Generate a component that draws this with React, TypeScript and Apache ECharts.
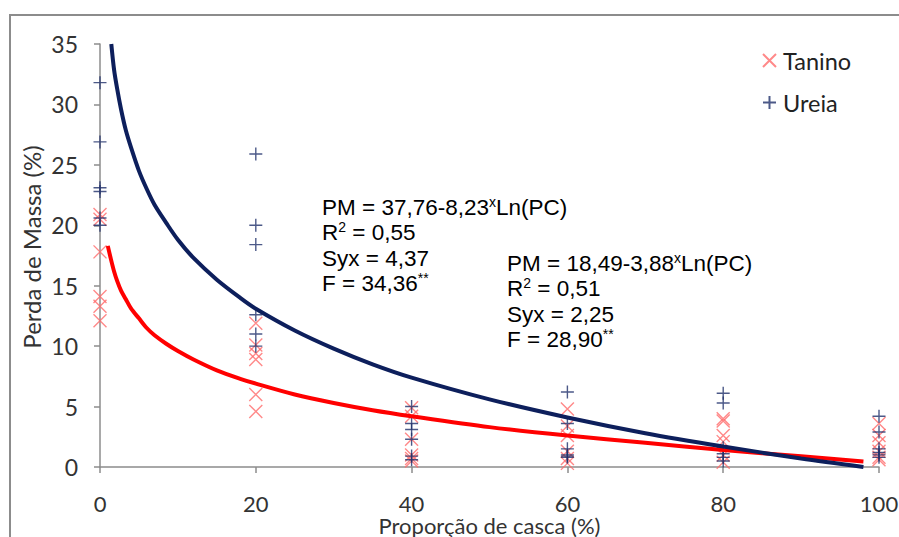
import React, { useEffect, useRef } from "react";
import * as echarts from "echarts";

// Proportion levels (x) and observed values (y) per treatment
const levels = [0, 20, 40, 60, 80, 100];
const taninoValues = [
  [20.9, 20.5, 17.8, 14.1, 13.3, 12.1],
  [11.9, 10.1, 9.4, 8.9, 6.0, 4.6],
  [4.9, 4.2, 2.3, 1.0, 0.7, 0.5],
  [4.8, 3.4, 2.6, 1.3, 0.7, 0.3],
  [4.0, 3.8, 2.6, 2.1, 1.0, 0.4],
  [3.6, 2.6, 2.0, 1.3, 0.8, 0.6],
];
const ureiaValues = [
  [31.8, 26.9, 23.1, 22.8, 20.6, 20.0],
  [25.9, 20.0, 18.4, 12.6, 11.0, 10.0],
  [5.0, 3.6, 3.1, 2.3, 0.9, 0.6],
  [6.2, 3.6, 1.5, 1.0, 0.9, 0.8],
  [6.1, 5.3, 1.6, 1.1, 0.8, 0.5],
  [4.2, 2.9, 1.5, 1.2, 1.0, 0.8],
];

// Trend curves
const ureiaFitX = [1.45, 1.8, 2.2, 2.7, 3.3, 4, 5, 6, 7, 8.5, 10, 12, 15, 18, 20, 25, 30, 35, 40, 50, 60, 70, 80, 90, 98];
const ureiaFitY = [35.0, 32.9, 31.3, 29.6, 27.9, 26.4, 24.5, 23.0, 21.7, 20.2, 18.8, 17.3, 15.5, 14.0, 13.1, 11.3, 9.8, 8.5, 7.4, 5.6, 4.1, 2.8, 1.7, 0.7, 0.0];
const taninoFitX = [1, 1.4, 1.8, 2.2, 2.7, 3.3, 4, 5, 6, 7, 8.5, 10, 12, 15, 18, 20, 25, 30, 35, 40, 50, 60, 70, 80, 90, 98];
const taninoFitY = [18.3, 17.2, 16.2, 15.4, 14.6, 13.9, 13.1, 12.3, 11.5, 10.9, 10.2, 9.6, 8.9, 8.0, 7.3, 6.9, 6.0, 5.3, 4.7, 4.2, 3.3, 2.6, 2.0, 1.4, 0.9, 0.45];

const xTicks = { min: 0, max: 100, interval: 20 };
const yTicks = { min: 0, max: 35, interval: 5 };

const FONT = "Lato";
const EQ_FONT = "Liberation Sans";
const NAVY = "#0d1f5c";
const RED = "#ff0000";
const TANINO_MARK = "#ff6b6b";
const UREIA_MARK = "#1f2f6a";
const AXIS_GRAY = "#8c8c8c";

const X_SYMBOL = "path://M0,0L10,10M10,0L0,10";
const PLUS_SYMBOL = "path://M5,0L5,10M0,5L10,5";

function toPoints(xs: number[], groups: number[][]) {
  const out: number[][] = [];
  groups.forEach((g, i) => g.forEach((v) => out.push([xs[i], v])));
  return out;
}
function zip(xs: number[], ys: number[]) {
  return xs.map((x, i) => [x, ys[i]]);
}

export default function App() {
  const ref = useRef<HTMLDivElement>(null);
  useEffect(() => {
    const chart = echarts.init(ref.current!, null, { renderer: "svg" });
    const eqRich = (color: string) => ({
      t: { fontFamily: EQ_FONT, fontSize: 22.5, lineHeight: 25.3, color },
      sup: { fontFamily: EQ_FONT, fontSize: 14, lineHeight: 16, color, verticalAlign: "top" },
    });
    chart.setOption({
      animation: false,
      backgroundColor: "#ffffff",
      grid: { left: 100, right: 20, top: 44, bottom: 70, outerBoundsMode: "none", containLabel: false },
      xAxis: {
        type: "value",
        ...xTicks,
        name: "Proporção de casca (%)",
        nameLocation: "middle",
        nameGap: 49,
        nameMoveOverlap: false,
        nameTextStyle: { fontFamily: FONT, fontSize: 22, color: "#333", lineHeight: 18 },
        axisLine: { lineStyle: { color: AXIS_GRAY, width: 1.5 } },
        axisTick: { show: true, length: 6, lineStyle: { color: AXIS_GRAY, width: 1.5 } },
        axisLabel: { margin: 27.5, fontFamily: FONT, fontSize: 22, color: "#333", lineHeight: 17 },
        splitLine: { show: false },
      },
      yAxis: {
        type: "value",
        ...yTicks,
        axisLine: { show: true, lineStyle: { color: AXIS_GRAY, width: 1.5 } },
        axisTick: { show: true, length: 6, lineStyle: { color: AXIS_GRAY, width: 1.5 } },
        axisLabel: { margin: 22, fontFamily: FONT, fontSize: 23, color: "#333" },
        splitLine: { show: false },
      },
      legend: {
        orient: "vertical",
        left: 757,
        top: 43,
        itemWidth: 13,
        itemHeight: 13,
        itemGap: 17,
        textStyle: { fontFamily: FONT, fontSize: 23.5, color: "#222", lineHeight: 25, padding: [0, 0, 0, 2] },
        data: ["Tanino", "Ureia"],
      },
      series: [
        {
          name: "Tanino",
          type: "scatter",
          symbol: X_SYMBOL,
          symbolSize: 13,
          itemStyle: { color: TANINO_MARK, borderColor: TANINO_MARK, borderWidth: 1.4 },
          data: toPoints(levels, taninoValues),
          z: 2,
        },
        {
          name: "Ureia",
          type: "scatter",
          symbol: PLUS_SYMBOL,
          symbolSize: 13,
          itemStyle: { color: UREIA_MARK, borderColor: UREIA_MARK, borderWidth: 1.4 },
          data: toPoints(levels, ureiaValues),
          z: 2,
        },
        {
          name: "Tanino ajuste",
          type: "line",
          smooth: 0.3,
          symbol: "none",
          lineStyle: { color: RED, width: 4 },
          data: zip(taninoFitX, taninoFitY),
          z: 3,
        },
        {
          name: "Ureia ajuste",
          type: "line",
          smooth: 0.3,
          symbol: "none",
          lineStyle: { color: NAVY, width: 4 },
          data: zip(ureiaFitX, ureiaFitY),
          z: 4,
        },
      ],
      graphic: [
        {
          type: "rect",
          shape: { x: 10, y: 15, width: 1000, height: 600 },
          style: { fill: "none", stroke: AXIS_GRAY, lineWidth: 2 },
          silent: true,
        },
        {
          type: "text",
          x: 31,
          y: 247,
          rotation: Math.PI / 2,
          style: {
            text: "Perda de Massa (%)",
            fontFamily: FONT,
            fontSize: 24,
            fill: "#333",
            align: "center",
            verticalAlign: "middle",
          },
        },
        {
          type: "text",
          x: 322,
          y: 195,
          style: {
            text:
              "{t|PM = 37,76-8,23}{sup|x}{t|Ln(PC)}\n{t|R}{sup|2}{t| = 0,55}\n{t|Syx = 4,37}\n{t|F = 34,36}{sup|**}",
            rich: eqRich(NAVY),
            align: "left",
            verticalAlign: "top",
          },
        },
        {
          type: "text",
          x: 507,
          y: 251,
          style: {
            text:
              "{t|PM = 18,49-3,88}{sup|x}{t|Ln(PC)}\n{t|R}{sup|2}{t| = 0,51}\n{t|Syx = 2,25}\n{t|F = 28,90}{sup|**}",
            rich: eqRich(RED),
            align: "left",
            verticalAlign: "top",
          },
        },
      ],
    });
    return () => chart.dispose();
  }, []);
  return (
    <div
      ref={ref}
      style={{ position: "fixed", left: 0, top: 0, width: 899, height: 537, background: "#fff" }}
    />
  );
}
